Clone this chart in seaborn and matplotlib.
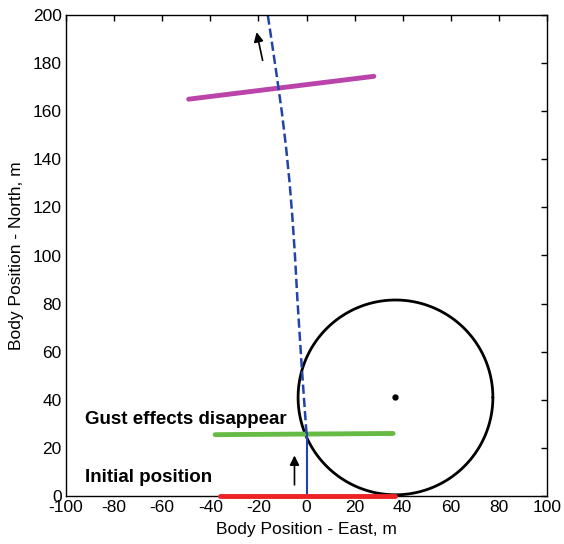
import matplotlib
matplotlib.use('Agg')
import matplotlib.pyplot as plt
import numpy as np
import pandas as pd
import seaborn as sns

# Data
path_east = [0, -1, -2, -2.9, -3.8, -4.8, -5.8, -7.0, -8.5, -10.3, -12.4, -14.6, -16.1]
path_north = [26, 40, 54, 68, 82, 100, 115, 130, 145, 160, 175, 190, 200]

initial_east = [-36, 37]
initial_north = [0, 0]
gust_east = [-38, 36]
gust_north = [25.5, 26]
top_east = [-49, 28]
top_north = [165, 174.5]

climb_east = [0, 0]
climb_north = [0, 26]

circle_center = (37, 41)
circle_radius = 40.5

sns.set_style('white')
plt.rcParams['font.family'] = ['Liberation Sans', 'DejaVu Sans']
plt.rcParams['xtick.direction'] = 'in'
plt.rcParams['ytick.direction'] = 'in'
plt.rcParams['axes.unicode_minus'] = False
plt.rcParams['text.color'] = 'black'
plt.rcParams['axes.labelcolor'] = 'black'
plt.rcParams['xtick.color'] = 'black'
plt.rcParams['ytick.color'] = 'black'

fig = plt.figure(figsize=(5.64, 5.44), dpi=100)
ax = fig.add_axes([66 / 564, 48 / 544, 481 / 564, 481 / 544])

# circle
theta = np.linspace(0, 2 * np.pi, 300)
circ = pd.DataFrame({'east': circle_center[0] + circle_radius * np.cos(theta),
                     'north': circle_center[1] + circle_radius * np.sin(theta)})
sns.lineplot(data=circ, x='east', y='north', sort=False, estimator=None,
             color='black', lw=2, ax=ax)
ax.plot(*circle_center, 'o', color='black', ms=3.5)

sns.lineplot(x=gust_east, y=gust_north, color='#66bb44', lw=3.5, ax=ax)
sns.lineplot(x=top_east, y=top_north, color='#bb44aa', lw=3.5, ax=ax)
sns.lineplot(x=climb_east, y=climb_north, sort=False, estimator=None,
             color='#2244aa', lw=1.5, ax=ax)
sns.lineplot(x=path_east, y=path_north, sort=False, estimator=None, color='#2244aa',
             lw=1.8, linestyle='--', dashes=(3, 1.5), ax=ax)
sns.lineplot(x=initial_east, y=initial_north, color='#ee2222', lw=3.5, ax=ax)
red = ax.lines[-1]
red.set_clip_on(False)
red.set_zorder(4)

# arrows
ax.annotate('', xy=(-21, 194), xytext=(-18, 180),
            arrowprops=dict(arrowstyle='-|>', color='black', lw=1.2, mutation_scale=14))
ax.annotate('', xy=(-5, 18), xytext=(-5, 3.5),
            arrowprops=dict(arrowstyle='-|>', color='black', lw=1.2, mutation_scale=14))

ax.text(-92, 32, 'Gust effects disappear', fontsize=13.5, fontweight='bold', va='center')
ax.text(-92, 7.5, 'Initial position', fontsize=13.5, fontweight='bold', va='center')

ax.set_xlim(-100, 100)
ax.set_ylim(0, 200)
ax.set_xticks(np.arange(-100, 101, 20))
ax.set_yticks(np.arange(0, 201, 20))
ax.tick_params(labelsize=12.5, length=4, width=1, top=True, right=True, pad=3)
ax.set_xlabel('Body Position - East, m', fontsize=12.5, labelpad=5)
ax.set_ylabel('Body Position - North, m', fontsize=12.5, labelpad=6)
for s in ax.spines.values():
    s.set_color('black')
    s.set_linewidth(1)

fig.savefig('out.png', dpi=100)
